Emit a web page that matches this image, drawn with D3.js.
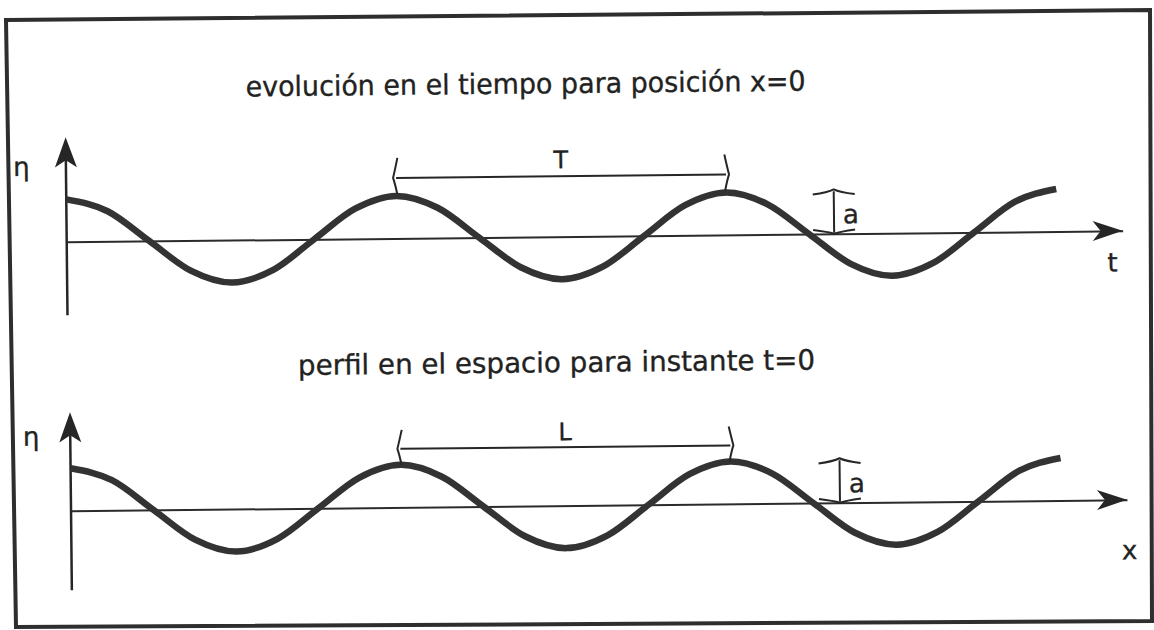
<!doctype html>
<html>
  <head>
    <meta charset="utf-8">
    <script src="https://cdn.jsdelivr.net/npm/d3@7/dist/d3.min.js"></script>
    <style>
      body { margin: 0; background: #fff; }
      svg { display: block; }
      text { font-family: "DejaVu Sans", sans-serif; fill: #222; stroke: #222; stroke-width: 0.35; }
      .frame { fill: none; stroke: #2e2e2e; stroke-width: 4; }
      .wave { fill: none; stroke: #333; stroke-width: 6.5; }
      .axis { stroke: #262626; stroke-width: 2.5; fill: none; }
      .base path { stroke: #2b2b2b; stroke-width: 2; }
      .mark { stroke: #262626; stroke-width: 2; fill: none; }
      .head { fill: #262626; }
    </style>
  </head>
  <body>
    <svg width="1154" height="630"></svg>
    <script>
      // position along the wave, in periods (T or L)
      var phase = [0, 0.125, 0.25, 0.375, 0.5, 0.625, 0.75, 0.875,
                   1, 1.125, 1.25, 1.375, 1.5, 1.625, 1.75, 1.875,
                   2, 2.125, 2.25, 2.375, 2.5, 2.625, 2.75, 2.875, 3];
      var etaTime  = [1, 0.71, 0, -0.71, -1, -0.71, 0, 0.71,
                      1, 0.71, 0, -0.71, -1, -0.71, 0, 0.71,
                      1, 0.71, 0, -0.71, -1, -0.71, 0, 0.71, 1];
      var etaSpace = [1, 0.71, 0, -0.71, -1, -0.71, 0, 0.71,
                      1, 0.71, 0, -0.71, -1, -0.71, 0, 0.71,
                      1, 0.71, 0, -0.71, -1, -0.71, 0, 0.71, 1];
      var titles = ["evolución en el tiempo para posición x=0",
                    "perfil en el espacio para instante t=0"];
      var axisNames = ["t", "x"];
      var periodNames = ["T", "L"];
      var ampName = "a";
      var etaName = "η";

      var svg = d3.select("svg");

      // scanned frame, slightly skewed
      svg.append("path")
        .attr("class", "frame")
        .attr("d", "M6,20 L1150,10 L1152,621 L16,627 Z");

      var g = svg.append("g")
        .attr("transform", "rotate(-0.6,577,315)");

      var panels = [
        {title: titles[0], titleX: 528, titleY: 93, titleLen: 560,
         eta: etaTime, axis: axisNames[0], period: periodNames[0],
         xr: [67.5, 1123.5], yr: [279, 194], yTop: 132, yBot: 310,
         etaX: 23, etaY: 170, axisLabX: 1113, axisLabY: 277,
         perY: 176, perTop: 156, perBot: 192, perLabY: 168,
         ampX: 835, ampLabX: 852, ampLabY: 226},
        {title: titles[1], titleX: 556, titleY: 372, titleLen: 517,
         eta: etaSpace, axis: axisNames[1], period: periodNames[1],
         xr: [69, 1125], yr: [548, 463], yTop: 407, yBot: 585,
         etaX: 30, etaY: 440, axisLabX: 1127, axisLabY: 565,
         perY: 447, perTop: 428, perBot: 463, perLabY: 440,
         ampX: 838, ampLabX: 855, ampLabY: 495}
      ];

      panels.forEach(drawPanel);

      function drawPanel(p) {
        var x = d3.scaleLinear().domain([0, 3.2]).range(p.xr);
        var y = d3.scaleLinear().domain([-1, 1]).range(p.yr);
        var x0 = x(0), y0 = y(0);

        g.append("text")
          .attr("x", p.titleX)
          .attr("y", p.titleY)
          .attr("text-anchor", "middle")
          .attr("textLength", p.titleLen)
          .attr("lengthAdjust", "spacingAndGlyphs")
          .style("font-size", "28px")
          .text(p.title);

        // horizontal axis
        g.append("g")
          .attr("class", "base")
          .attr("transform", "translate(0," + y0 + ")")
          .call(d3.axisBottom(x).ticks(0).tickSizeOuter(0));
        var tipX = x(3.2);
        g.append("path")
          .attr("class", "head")
          .attr("d", "M" + tipX + "," + y0 +
                " L" + (tipX - 30) + "," + (y0 - 10) +
                " L" + (tipX - 22) + "," + y0 +
                " L" + (tipX - 30) + "," + (y0 + 10) + " Z");

        // vertical axis
        g.append("line")
          .attr("class", "axis")
          .attr("x1", x0).attr("x2", x0)
          .attr("y1", p.yTop + 20).attr("y2", p.yBot);
        g.append("path")
          .attr("class", "head")
          .attr("d", "M" + x0 + "," + p.yTop +
                " L" + (x0 - 11) + "," + (p.yTop + 30) +
                " L" + x0 + "," + (p.yTop + 23) +
                " L" + (x0 + 11) + "," + (p.yTop + 30) + " Z");

        g.append("text")
          .attr("x", p.etaX).attr("y", p.etaY)
          .attr("text-anchor", "middle")
          .style("font-size", "26px")
          .text(etaName);

        g.append("text")
          .attr("x", p.axisLabX).attr("y", p.axisLabY)
          .attr("text-anchor", "middle")
          .style("font-size", "26px")
          .text(p.axis);

        // the wave
        var line = d3.line()
          .x(d => x(d[0]))
          .y(d => y(d[1]))
          .curve(d3.curveMonotoneX);
        g.append("path")
          .datum(d3.zip(phase, p.eta))
          .attr("class", "wave")
          .attr("d", line);

        // period bracket between the 2nd and 3rd crests
        var xa = x(1), xb = x(2);
        g.append("line")
          .attr("class", "mark")
          .attr("x1", xa).attr("x2", xb)
          .attr("y1", p.perY).attr("y2", p.perY);
        [[xa, -1], [xb, 1]].forEach(function (e) {
          var xx = e[0], s = e[1];
          g.append("path")
            .attr("class", "mark")
            .attr("d", "M" + (xx - s * 1.5) + "," + p.perTop +
                  " Q" + (xx + s * 1) + "," + (p.perY - 8) + " " + (xx + s * 3) + "," + p.perY +
                  " Q" + (xx + s * 1) + "," + (p.perY + 6) + " " + (xx - s * 1) + "," + p.perBot);
        });
        g.append("text")
          .attr("x", (xa + xb) / 2).attr("y", p.perLabY)
          .attr("text-anchor", "middle")
          .style("font-size", "24px")
          .text(p.period);

        // amplitude marker
        var ya = y(1), yb = y0 - 1;
        g.append("line")
          .attr("class", "mark")
          .attr("x1", p.ampX).attr("x2", p.ampX)
          .attr("y1", ya).attr("y2", yb);
        g.append("path")
          .attr("class", "mark")
          .attr("d", "M" + (p.ampX - 21) + "," + (ya + 3) +
                " Q" + (p.ampX - 6) + "," + (ya + 1) + " " + p.ampX + "," + (ya - 2) +
                " Q" + (p.ampX + 6) + "," + (ya + 1) + " " + (p.ampX + 21) + "," + (ya + 3));
        g.append("path")
          .attr("class", "mark")
          .attr("d", "M" + (p.ampX - 21) + "," + (yb - 3) +
                " Q" + (p.ampX - 6) + "," + (yb - 1) + " " + p.ampX + "," + (yb + 1) +
                " Q" + (p.ampX + 6) + "," + (yb - 1) + " " + (p.ampX + 21) + "," + (yb - 3));
        g.append("text")
          .attr("x", p.ampLabX).attr("y", p.ampLabY)
          .attr("text-anchor", "middle")
          .style("font-size", "26px")
          .text(ampName);
      }
    </script>
  </body>
</html>
